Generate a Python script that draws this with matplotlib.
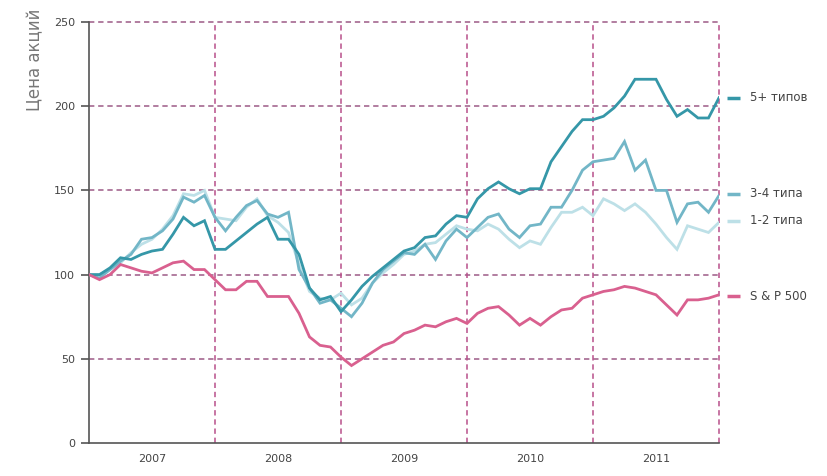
import numpy as np
import matplotlib
matplotlib.use('Agg')
from matplotlib import pyplot as plt

# monthly index values, Jan 2007 .. Jan 2012 (61 points)
months = np.arange(61) / 12.0 + 2007

types_5 = [100, 100, 104, 110, 109, 112, 114, 115, 124, 134, 129, 132,
           115, 115, 120, 125, 130, 134, 121, 121, 112, 92, 85, 87,
           78, 85, 93, 99, 104, 109, 114, 116, 122, 123, 130, 135,
           134, 145, 151, 155, 151, 148, 151, 151, 167, 176, 185, 192,
           192, 194, 199, 206, 216, 216, 216, 204, 194, 198, 193, 193,
           205]

types_34 = [100, 98, 103, 108, 112, 121, 122, 126, 133, 146, 143, 147,
            134, 126, 134, 141, 144, 136, 134, 137, 103, 92, 83, 85,
            80, 75, 83, 95, 103, 108, 113, 112, 118, 109, 120, 127,
            122, 128, 134, 136, 127, 122, 129, 130, 140, 140, 150, 162,
            167, 168, 169, 179, 162, 168, 150, 150, 131, 142, 143, 137,
            147]

types_12 = [100, 100, 103, 107, 113, 118, 121, 127, 135, 148, 147, 150,
            134, 133, 132, 140, 145, 135, 131, 125, 106, 90, 86, 85,
            89, 82, 86, 95, 101, 106, 112, 114, 118, 119, 124, 129,
            127, 126, 130, 127, 121, 116, 120, 118, 128, 137, 137, 140,
            135, 145, 142, 138, 142, 137, 130, 122, 115, 129, 127, 125,
            131]

sp500 = [100, 97, 100, 106, 104, 102, 101, 104, 107, 108, 103, 103,
         97, 91, 91, 96, 96, 87, 87, 87, 77, 63, 58, 57,
         51, 46, 50, 54, 58, 60, 65, 67, 70, 69, 72, 74,
         71, 77, 80, 81, 76, 70, 74, 70, 75, 79, 80, 86,
         88, 90, 91, 93, 92, 90, 88, 82, 76, 85, 85, 86,
         88]

years = [2007, 2008, 2009, 2010, 2011]
series_names = ['5+ типов', '3-4 типа', '1-2 типа', 'S & P 500']

colors = ['#3597a8', '#72b6c7', '#bde0e7', '#d9608f']
hgrid_c = '#9c5a86'
vgrid_c = '#b8508a'

fig = plt.figure(figsize=(8.27, 4.76), dpi=100)
ax = fig.add_axes([89 / 827, 33 / 476, 630 / 827, 421 / 476])

all_series = [types_12, types_34, types_5, sp500]
all_cols = [colors[2], colors[1], colors[0], colors[3]]
for s, c in zip(all_series, all_cols):
    ax.plot(months, s, color=c, lw=2.0, solid_joinstyle='miter', zorder=3)

ax.set_xlim(2007, 2012)
ax.set_ylim(0, 250)

# dashed grid
for v in [50, 100, 150, 200, 250]:
    ax.axhline(v, color=hgrid_c, lw=1.1, ls=(0, (3.5, 2.5)), zorder=1, clip_on=False)
for yr in [2008, 2009, 2010, 2011, 2012]:
    ax.axvline(yr, color=vgrid_c, lw=1.1, ls=(0, (3.5, 2.5)), zorder=1, clip_on=False)

for sp in ['top', 'right']:
    ax.spines[sp].set_visible(False)
ax.spines['left'].set_color('#555555')
ax.spines['bottom'].set_color('#555555')
ax.spines['left'].set_linewidth(1.2)
ax.spines['bottom'].set_linewidth(1.2)

ax.set_yticks([0, 50, 100, 150, 200, 250])
ax.tick_params(axis='y', length=6, width=1.2, color='#555555', labelsize=8,
               labelcolor='#444444', pad=4)
ax.set_xticks([y + 0.5 for y in years])
ax.set_xticklabels([str(y) for y in years])
ax.tick_params(axis='x', length=0, labelsize=8, labelcolor='#444444', pad=8)

fig.text(35 / 827, 1 - 60 / 476, 'Цена акций', rotation=90, ha='center', va='center',
         fontsize=12, color='#777777')

# legend at right, next to line ends
leg_y = [205, 148, 132, 87]
for name, c, yv in zip(series_names, colors, leg_y):
    ax.plot([2012.06, 2012.17], [yv, yv], color=c, lw=2.5, clip_on=False,
            solid_capstyle='butt')
    ax.text(2012.25, yv, name, va='center', ha='left', fontsize=8.5, color='#444444')

fig.savefig('out.png', dpi=100)
